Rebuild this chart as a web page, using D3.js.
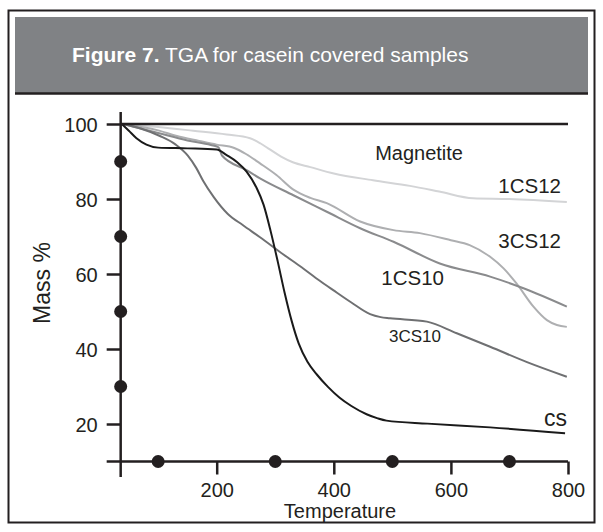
<!DOCTYPE html>
<meta charset="utf-8">
<style>
    body { margin: 0; background: #fff; }
    svg text { font-family: "Liberation Sans", Arial, sans-serif; fill: #231f20; }
    .curve { fill: none; stroke-width: 2px; stroke-linejoin: round; }
</style>
<svg width="603" height="532"></svg>
<script src="https://cdn.jsdelivr.net/npm/d3@7/dist/d3.min.js"></script>
<script>

    // TGA curves, [temperature, mass %]
    var csData = [[38,100],[50,98.2],[63,96.2],[80,94.5],[100,93.7],[150,93.5],[200,93.2],[217,91.7],[235,89.8],
        [251,87.3],[268,83],[280,78.5],[292,71.5],[304,63.5],[316,55],[328,47.5],[340,41.5],[355,36.6],[371,33.2],
        [390,29.9],[410,27],[430,24.8],[456,22.6],[475,21.5],[490,20.9],[560,20.1],[667,19.1],[795,17.5]];
    var cs3_10 = [[40,100],[70,98.8],[103,96.8],[130,94.5],[151,91.5],[165,88.3],[177,84.8],[195,80.5],[219,76],
        [245,73],[274,69.8],[314,65.2],[345,61.8],[376,58.2],[399,55.7],[430,52.4],[462,49.3],[480,48.5],[496,48.2],
        [559,47.3],[610,44.2],[667,40.6],[730,36.5],[798,32.6]];
    var cs1_10 = [[40,100],[100,97.6],[150,95.6],[190,94.4],[203,93.8],[209,91.6],[251,87.7],[274,85.5],[331,81],
        [388,76.6],[445,72.2],[502,68.6],[581,62.8],[667,59.3],[724,56.2],[798,51.3]];
    var cs3_12 = [[38,100],[100,98.3],[132,96.8],[170,95.5],[200,94.5],[230,93.6],[250,92],[274,89.5],[302,86.4],
        [331,82.5],[360,80.3],[388,78.9],[445,74],[502,71.7],[547,70.9],[600,69],[632,67.7],[667,64.6],[690,61.5],
        [712,57.5],[741,51.3],[764,47.7],[781,46.4],[798,45.9]];
    var cs1_12 = [[38,100],[100,99.2],[160,98.2],[217,97.2],[257,96.2],[275,94.8],[290,93.3],[310,91.3],[330,89.8],
        [360,88.5],[400,86.8],[467,85],[530,83.5],[580,82],[638,80.2],[700,80],[798,79.2]];

    var xTicks = [200, 400, 600, 800];
    var yTicks = [20, 40, 60, 80, 100];
    var yDots = [90, 70, 50, 30];
    var xDots = [100, 300, 500, 700];
    var axisT = 36, axisM = 10;

    var svg = d3.select("svg");

    // frame + header
    svg.append("rect").attr("x", 8.5).attr("y", 10.5).attr("width", 586).attr("height", 512)
            .attr("fill", "none").attr("stroke", "#231f20").attr("stroke-width", 2);
    svg.append("rect").attr("x", 15).attr("y", 17).attr("width", 573).attr("height", 76).attr("fill", "#808285");
    svg.append("line").attr("x1", 15).attr("x2", 588).attr("y1", 93.5).attr("y2", 93.5)
            .attr("stroke", "#231f20").attr("stroke-width", 2.5);
    var title = svg.append("text").attr("x", 72).attr("y", 62).style("font-size", "21px").style("fill", "#fff");
    title.append("tspan").style("font-weight", "bold").style("fill", "#fff").text("Figure 7.");
    title.append("tspan").style("fill", "#fff").text(" TGA for casein covered samples");

    var x = d3.scaleLinear().domain([0, 800]).range([99.6, 568]);
    var y = d3.scaleLinear().domain([10, 100]).range([461.5, 124]);

    // curves
    var line = d3.line()
            .x(function (d) { return x(d[0]); })
            .y(function (d) { return y(d[1]); })
            .curve(d3.curveMonotoneX);

    var series = [
        {data: cs1_12, color: "#d3d4d6"},
        {data: cs3_12, color: "#aeafb1"},
        {data: cs1_10, color: "#8a8b8d"},
        {data: cs3_10, color: "#6f7072"},
        {data: csData, color: "#1a1a1a"}
    ];
    svg.append("g").selectAll("path")
            .data(series)
            .enter().append("path")
            .attr("class", "curve")
            .attr("stroke", function (d) { return d.color; })
            .attr("d", function (d) { return line(d.data); });

    // axes
    var yAxis = svg.append("g")
            .attr("transform", "translate(" + x(axisT) + ",0)")
            .call(d3.axisLeft(y).tickValues(yTicks).tickSize(14).tickPadding(9));
    var xAxis = svg.append("g")
            .attr("transform", "translate(0," + y(axisM) + ")")
            .call(d3.axisBottom(x).tickValues(xTicks).tickSize(13).tickPadding(8));
    [yAxis, xAxis].forEach(function (g) {
        g.select(".domain").remove();
        g.selectAll(".tick line").attr("stroke", "#231f20").attr("stroke-width", 2.5);
        g.selectAll(".tick text").style("font-size", "20px").attr("fill", "#231f20");
    });
    yAxis.selectAll(".tick text").attr("dy", "0.36em");

    var ax = svg.append("g").attr("stroke", "#231f20").attr("stroke-width", 2.5);
    ax.append("line").attr("x1", x(axisT)).attr("x2", x(axisT)).attr("y1", 112).attr("y2", 477);
    ax.append("line").attr("x1", x(axisT) - 14).attr("x2", x(800)).attr("y1", y(axisM)).attr("y2", y(axisM));
    ax.append("line").attr("x1", x(axisT)).attr("x2", x(800)).attr("y1", y(100)).attr("y2", y(100));

    // markers on the axes
    svg.append("g").selectAll("circle")
            .data(yDots.map(function (v) { return [axisT, v]; })
                    .concat(xDots.map(function (v) { return [v, axisM]; })))
            .enter().append("circle")
            .attr("cx", function (d) { return x(d[0]); })
            .attr("cy", function (d) { return y(d[1]); })
            .attr("r", 6.5)
            .attr("fill", "#231f20");

    // labels
    var labels = [
        {t: "Magnetite", x: 463, y: 160, s: 20},
        {t: "1CS12", x: 561, y: 193, s: 20.5},
        {t: "3CS12", x: 561, y: 248, s: 20.5},
        {t: "1CS10", x: 444, y: 285, s: 20.5},
        {t: "3CS10", x: 441, y: 341.5, s: 17},
        {t: "cs", x: 567, y: 426, s: 23}
    ];
    svg.append("g").selectAll("text")
            .data(labels)
            .enter().append("text")
            .attr("x", function (d) { return d.x; })
            .attr("y", function (d) { return d.y; })
            .attr("text-anchor", "end")
            .style("font-size", function (d) { return d.s + "px"; })
            .text(function (d) { return d.t; });

    svg.append("text").attr("x", 340).attr("y", 518).attr("text-anchor", "middle")
            .style("font-size", "20px").text("Temperature");
    svg.append("text").attr("transform", "translate(50,283) rotate(-90)").attr("text-anchor", "middle")
            .style("font-size", "23px").text("Mass %");

</script>
